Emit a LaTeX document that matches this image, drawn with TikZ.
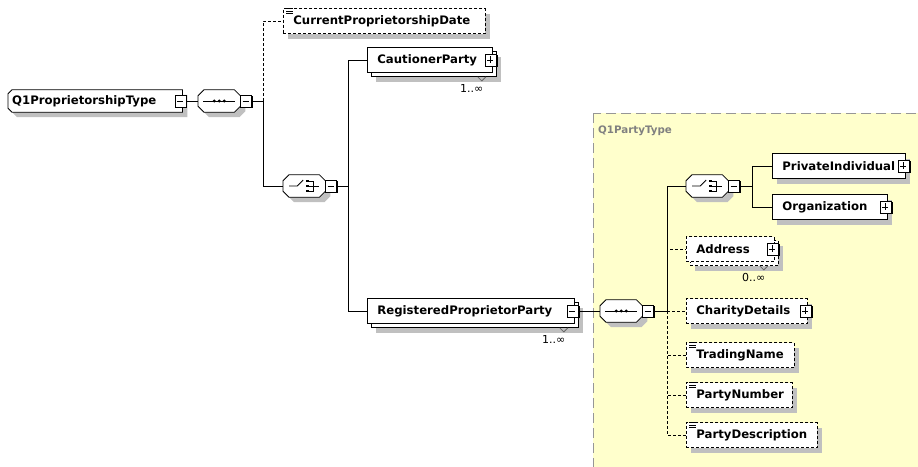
\documentclass[tikz,border=0pt]{standalone}
\usepackage{fontspec}
\setmainfont{DejaVu Sans}
\usetikzlibrary{shapes,shadows,calc}

\definecolor{typefill}{RGB}{255,255,204}
\definecolor{typeline}{RGB}{150,150,150}
\definecolor{shadegray}{RGB}{192,192,192}

\pgfdeclarelayer{back}
\pgfdeclarelayer{bg}
\pgfsetlayers{back,bg,main}

\tikzset{
  conn/.style={line width=.8pt},
  optconn/.style={conn, dash pattern=on 3pt off 2pt},
  flatshade/.style={drop shadow={shadow xshift=5pt,shadow yshift=-5pt,fill=shadegray,opacity=1}},
  stackshade/.style={drop shadow={shadow xshift=9pt,shadow yshift=-9pt,fill=shadegray,opacity=1},
    general shadow={shadow xshift=4pt,shadow yshift=-4pt,draw,fill=white,line width=.8pt}},
  box/.style={draw, fill=white, line width=.8pt, anchor=west, minimum height=25,
    inner xsep=10pt, inner ysep=0pt, align=left, text width=#1,
    font=\bfseries\fontsize{11.7}{13}\selectfont},
  elem/.style={box=#1, flatshade},
  optelem/.style={box=#1, flatshade, dash pattern=on 3pt off 2pt},
  multielem/.style={box=#1, stackshade},
  optmultielem/.style={box=#1, stackshade, dash pattern=on 3pt off 2pt},
  rootelem/.style={anchor=west, minimum height=22, inner xsep=4pt, inner ysep=0pt,
    align=left, text width=166, font=\bfseries\fontsize{11.7}{13}\selectfont},
  comp/.style={anchor=west, minimum width=42, minimum height=22, inner sep=0pt},
  compline/.style={fill=white, line width=.8pt, flatshade},
  btnbox/.style={draw, fill=white, line width=.8pt, minimum width=11, minimum height=12, inner sep=0pt,
    drop shadow={shadow xshift=1.2pt,shadow yshift=-1.2pt,fill=black,opacity=1}},
  occ/.style={inner sep=0pt, font=\fontsize{11}{12}\selectfont},
  typearea/.style={fill=typefill, draw=typeline, line width=.9pt, dash pattern=on 10pt off 5pt},
  typename/.style={anchor=west, inner sep=0pt, text=black!50, font=\bfseries\fontsize{10.3}{12}\selectfont}
}

\newcommand\minusbtn[2]{%
  \node[btnbox] (#1) at (#2) {};
  \draw[line width=.8pt] (#1.west) ++(2.5,0) -- ++(6,0);
}
\newcommand\plusbtn[2]{%
  \minusbtn{#1}{#2}
  \draw[line width=.8pt] (#1.north) ++(0,2.5) -- ++(0,7);
}
\newcommand\compshape[1]{%
  \filldraw[compline] ([xshift=6pt]#1.north west) -- ([xshift=-6pt]#1.north east)
    -- ([yshift=-6pt]#1.north east) -- ([yshift=6pt]#1.south east)
    -- ([xshift=-6pt]#1.south east) -- ([xshift=6pt]#1.south west)
    -- ([yshift=6pt]#1.south west) -- ([yshift=-6pt]#1.north west) -- cycle;
}
\newcommand\seqmark[1]{%
  \compshape{#1}
  \draw[line width=.8pt] ([shift={(-16,0)}]#1.center) -- ([shift={(16,0)}]#1.center);
  \foreach \d in {-5,0,5} \fill ([shift={(\d,0)}]#1.center) circle (1.7);
}
\newcommand\choicemark[1]{%
  \compshape{#1}
  \draw[line width=.8pt] ([shift={(-15,0)}]#1.center) -- ++(8,0) -- ++(6,-6);
  \foreach \d in {-5,0,5} \fill ([shift={(1.5,\d)}]#1.center) ++(0,-1.4) rectangle ++(2.8,2.8);
  \draw[line width=.8pt] ([shift={(5,-5)}]#1.center) -- ++(4,0) -- ++(0,10) -- ++(-4,0);
  \draw[line width=.8pt] ([shift={(5,0)}]#1.center) -- ++(10,0);
}
\newcommand\simplemark[1]{%
  \foreach \d in {0.5,3,5.5} \draw[line width=.7pt] ([shift={(3,\d)}]#1.north west) -- ++(7,0);
}
\newcommand\occurs[2]{%
  \draw[line width=.8pt, black!60] ([shift={(-15,4)}]#1.south east) -- ++(4,4) -- ++(4,-4);
  \node[occ] (#1-occ) at ([shift={(-21,16)}]#1.south east) {#2};
}

\begin{document}
\begin{tikzpicture}[x=1pt,y=-1pt]
\useasboundingbox (0,0) rectangle (918,466);
\begin{pgfonlayer}{back}
\fill[white] (0,0) rectangle (918,466);
\end{pgfonlayer}

% Q1PartyType
\draw[typearea] (593,113) rectangle (940,490);
\node[typename] (partytype) at (598,131) {Q1PartyType};

% Q1ProprietorshipType
\node[rootelem] (proptype) at (8,101) {Q1ProprietorshipType};
\begin{pgfonlayer}{bg}
\filldraw[compline] ([xshift=4pt]proptype.north west) -- (proptype.north east)
  -- (proptype.south east) -- ([xshift=4pt]proptype.south west)
  -- ([yshift=4pt]proptype.south west) -- ([yshift=-4pt]proptype.north west) -- cycle;
\end{pgfonlayer}
\minusbtn{proptype-btn}{[xshift=-2pt]proptype.east}
\node[comp] (propseq) at (198,101) {};
\seqmark{propseq}
\minusbtn{propseq-btn}{[xshift=5.5pt]propseq.east}
\coordinate (propseq-j) at (263,101);

\node[optelem=182] (curdate) at (283,21) {CurrentProprietorshipDate};
\simplemark{curdate}

\node[comp] (propchoice) at (283,186) {};
\choicemark{propchoice}
\minusbtn{propchoice-btn}{[xshift=5.5pt]propchoice.east}
\coordinate (propchoice-j) at (348,186);

\node[multielem=105] (cautioner) at (367,60) {CautionerParty};
\plusbtn{cautioner-btn}{[xshift=-2pt]cautioner.east}
\occurs{cautioner}{1..∞}

\node[multielem=187] (regparty) at (367,311) {RegisteredProprietorParty};
\minusbtn{regparty-btn}{[xshift=-2pt]regparty.east}
\occurs{regparty}{1..∞}

% party content
\node[comp] (partyseq) at (600,311) {};
\seqmark{partyseq}
\minusbtn{partyseq-btn}{[xshift=5.5pt]partyseq.east}
\coordinate (partyseq-j) at (667,311);

\node[comp] (partychoice) at (686,186) {};
\choicemark{partychoice}
\minusbtn{partychoice-btn}{[xshift=5.5pt]partychoice.east}
\coordinate (partychoice-j) at (752,186);

\node[elem=113] (private) at (772,166) {PrivateIndividual};
\plusbtn{private-btn}{[xshift=-2pt]private.east}
\node[elem=95] (organization) at (772,207) {Organization};
\plusbtn{organization-btn}{[xshift=-2pt]organization.east}

\node[optmultielem=68] (address) at (686,249) {Address};
\plusbtn{address-btn}{[xshift=-2pt]address.east}
\occurs{address}{0..∞}
\node[optelem=101] (charity) at (686,311) {CharityDetails};
\plusbtn{charity-btn}{[xshift=-2pt]charity.east}
\node[optelem=88] (tradingname) at (686,355) {TradingName};
\simplemark{tradingname}
\node[optelem=86] (partynumber) at (686,395) {PartyNumber};
\simplemark{partynumber}
\node[optelem=111] (partydesc) at (686,435) {PartyDescription};
\simplemark{partydesc}

% connectors
\draw[conn] (proptype-btn.east) -- (propseq.west);
\draw[conn] (propseq-btn.east) -- (propseq-j);
\draw[optconn] (propseq-j) |- (curdate.west);
\draw[conn] (propseq-j) |- (propchoice.west);
\draw[conn] (propchoice-btn.east) -- (propchoice-j);
\draw[conn] (propchoice-j) |- (cautioner.west);
\draw[conn] (propchoice-j) |- (regparty.west);
\draw[conn] (regparty-btn.east) -- (partyseq.west);
\draw[conn] (partyseq-btn.east) -- (partyseq-j);
\draw[optconn] (partyseq-j) |- (address.west);
\draw[optconn] (partyseq-j) -- (charity.west);
\draw[optconn] (partyseq-j) |- (tradingname.west);
\draw[optconn] (partyseq-j) |- (partynumber.west);
\draw[optconn] (partyseq-j) |- (partydesc.west);
\draw[conn] (partyseq-j) |- (partychoice.west);
\draw[conn] (partychoice-btn.east) -- (partychoice-j);
\draw[conn] (partychoice-j) |- (private.west);
\draw[conn] (partychoice-j) |- (organization.west);
\end{tikzpicture}
\end{document}
